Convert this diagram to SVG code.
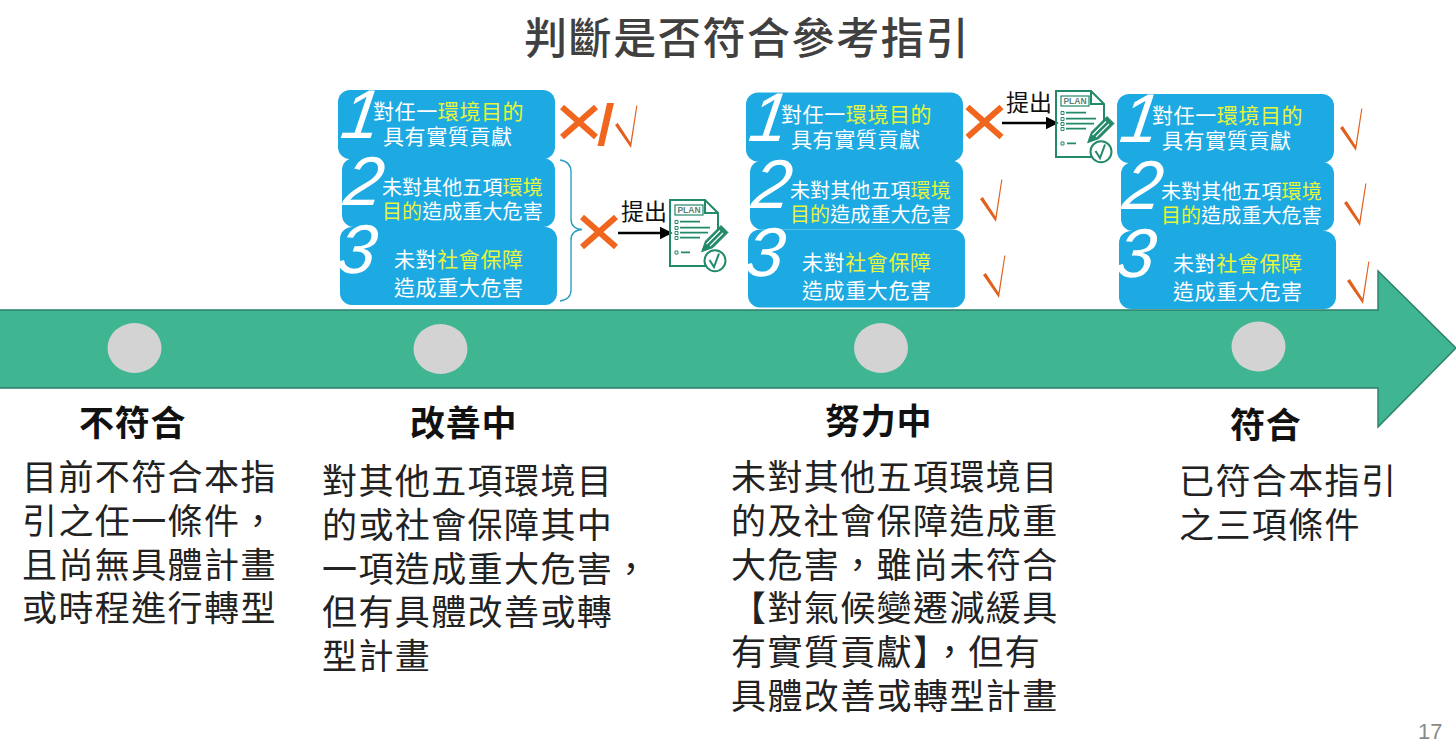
<svg xmlns="http://www.w3.org/2000/svg" width="1456" height="753" viewBox="0 0 1456 753">
<style>
text{font-family:"Noto Sans CJK TC","Noto Sans CJK SC","Liberation Sans",sans-serif}
.box{fill:#1DA9E2}
.num{font-family:"Liberation Sans",Arial,sans-serif;font-style:italic;fill:#fff;font-size:69px;font-weight:400}
.t1{fill:#fff;font-size:21px;letter-spacing:.6px}
.t2{fill:#fff;font-size:20px;letter-spacing:.1px}
.y{fill:#E8F53A}
.head{fill:#111;font-size:35px;font-weight:700;letter-spacing:.7px}
.body{fill:#222;font-size:35px;letter-spacing:1.400px}
.dot{fill:#D3D3D3}
.x{stroke:#F0661E;stroke-width:6;fill:none}
.tick{fill:#E2601E}
.sub{fill:#111;font-size:23px}
.link{stroke:#000;stroke-width:2.6;fill:none;marker-end:url(#ah)}
.ic{stroke:#22896A;fill:none;stroke-width:2}
.icf{fill:#22896A}
</style>
<defs>
<marker id="ah" markerWidth="5" markerHeight="5" refX="4" refY="2.5" orient="auto"><path d="M0,0L5,2.5L0,5Z" fill="#000"/></marker>
<path id="tk" d="M0,0L2.8,-2L15.500,17.500L21.300,-19.500L22.400,-19.500L16,23Z"/>
<path id="xm" d="M-17,-15L17,15M17,-15L-17,15"/>
<g id="plan">
<path class="ic" d="M36,66H0V0H35L48,13V30M35,0V13H48"/>
<rect class="ic" x="5" y="5" width="28" height="10" style="stroke-width:1.2"/>
<text x="19" y="13" text-anchor="middle" style="font-family:'Liberation Sans',sans-serif;font-size:8.5px;font-weight:700;fill:#5f7f78">PLAN</text>
<path class="ic" d="M10,21.700H30M10,27.700H40M10,32.700H38M10,37.700H30M11,52.300H20" style="stroke-width:1.8"/>
<path class="ic" d="M5,20.500h3v3h-3zM5,26.500h3v3h-3zM5,31.500h3v3h-3zM5,36.500h3v3h-3zM5,51h3v3h-3z" style="stroke-width:1"/>
<path d="M31.700,51.700L35.500,41L51,25.500L58,32.500L43,47.500Z" fill="#22896A" stroke="#22896A" stroke-width="1"/>
<path d="M36.500,44L50,30.500M40,46L53,33" stroke="#fff" stroke-width="1.200" fill="none"/>
<circle cx="45" cy="60.700" r="10.500" fill="#fff" stroke="#22896A" stroke-width="2"/>
<path class="ic" d="M39.500,60L44,67L49,53.500"/>
</g>
</defs>
<rect width="1456" height="753" fill="#fff"/>
<g id="title"><text x="747" y="54" text-anchor="middle" font-size="43" fill="#404040" font-weight="500" letter-spacing="1.6">判斷是否符合參考指引</text></g>
<g id="timeline">
<path d="M-2,310H1378V271L1456,348L1378,427V388H-2Z" fill="#3FB592" stroke="#2A7F6B" stroke-width="1.4"/>
</g>
<g id="dot-1"><ellipse class="dot" cx="134.500" cy="348" rx="27" ry="25"/></g>
<g id="dot-2"><ellipse class="dot" cx="440.500" cy="349" rx="27" ry="25"/></g>
<g id="dot-3"><ellipse class="dot" cx="881" cy="348" rx="27" ry="25"/></g>
<g id="dot-4"><ellipse class="dot" cx="1258.500" cy="346.500" rx="27" ry="25"/></g>

<g id="panel-1">
<rect class="box" x="338" y="90" width="217" height="69" rx="12"/>
<rect class="box" x="342" y="158" width="213" height="69" rx="12"/>
<rect class="box" x="340" y="227" width="217" height="78" rx="12"/>
<text class="num" transform="translate(339 138) skewX(-8)">1</text><text class="num" transform="translate(342 205) skewX(-8)">2</text><text class="num" transform="translate(335 273) skewX(-8)">3</text>
<text class="t1" x="373" y="119">對任一<tspan class="y">環境目的</tspan></text>
<text class="t1" x="383" y="144">具有實質貢獻</text>
<text class="t2" x="382" y="195">未對其他五項<tspan class="y">環境</tspan></text>
<text class="t2" x="382" y="219"><tspan class="y">目的</tspan>造成重大危害</text>
<text class="t1" x="394" y="267">未對<tspan class="y">社會保障</tspan></text>
<text class="t1" x="394" y="295">造成重大危害</text>
</g>
<g id="panel-2" transform="translate(408 2.500)">
<rect class="box" x="338" y="90" width="217" height="69" rx="12"/>
<rect class="box" x="342" y="158" width="213" height="69" rx="12"/>
<rect class="box" x="340" y="227" width="217" height="78" rx="12"/>
<text class="num" transform="translate(339 138) skewX(-8)">1</text><text class="num" transform="translate(342 205) skewX(-8)">2</text><text class="num" transform="translate(335 273) skewX(-8)">3</text>
<text class="t1" x="373" y="119">對任一<tspan class="y">環境目的</tspan></text>
<text class="t1" x="383" y="144">具有實質貢獻</text>
<text class="t2" x="382" y="195">未對其他五項<tspan class="y">環境</tspan></text>
<text class="t2" x="382" y="219"><tspan class="y">目的</tspan>造成重大危害</text>
<text class="t1" x="394" y="267">未對<tspan class="y">社會保障</tspan></text>
<text class="t1" x="394" y="295">造成重大危害</text>
</g>
<g id="panel-3" transform="translate(779 4)">
<rect class="box" x="338" y="90" width="217" height="69" rx="12"/>
<rect class="box" x="342" y="158" width="213" height="69" rx="12"/>
<rect class="box" x="340" y="227" width="217" height="78" rx="12"/>
<text class="num" transform="translate(339 138) skewX(-8)">1</text><text class="num" transform="translate(342 205) skewX(-8)">2</text><text class="num" transform="translate(335 273) skewX(-8)">3</text>
<text class="t1" x="373" y="119">對任一<tspan class="y">環境目的</tspan></text>
<text class="t1" x="383" y="144">具有實質貢獻</text>
<text class="t2" x="382" y="195">未對其他五項<tspan class="y">環境</tspan></text>
<text class="t2" x="382" y="219"><tspan class="y">目的</tspan>造成重大危害</text>
<text class="t1" x="394" y="267">未對<tspan class="y">社會保障</tspan></text>
<text class="t1" x="394" y="295">造成重大危害</text>
</g>

<g id="marks">
<use href="#xm" class="x" x="579" y="122"/>
<path d="M607,103H614L604,146H597.500Z" fill="#F0661E"/>
<use href="#tk" class="tick" x="615" y="125"/>
<use href="#xm" class="x" x="599" y="232"/>
<use href="#xm" class="x" x="984.500" y="122"/>
<use href="#tk" class="tick" x="980" y="199"/>
<use href="#tk" class="tick" x="983" y="275"/>
<use href="#tk" class="tick" x="1340" y="128"/>
<use href="#tk" class="tick" x="1344" y="203"/>
<use href="#tk" class="tick" x="1347" y="281"/>
</g>

<g id="connectors">
<path d="M560,160C567,161 571,164 571,172V219C571,226 575,229 582,229.500C575,230 571,233 571,240V290C571,297 567,300 560,301" fill="none" stroke="#2E9FBF" stroke-width="1.4"/>
<path class="link" d="M618,233H670"/>
<path class="link" d="M1002,123H1056"/>
</g>

<g id="plan-1"><text class="sub" x="621" y="220">提出</text><use href="#plan" x="670" y="200"/></g>
<g id="plan-2"><text class="sub" x="1006" y="111">提出</text><use href="#plan" x="1056" y="91"/></g>

<g id="stage-1">
<text class="head" x="79" y="436">不符合</text>
<text class="body" x="22" y="490">目前不符合本指</text>
<text class="body" x="22" y="534">引之任一條件，</text>
<text class="body" x="22" y="578">且尚無具體計畫</text>
<text class="body" x="22" y="621">或時程進行轉型</text>
</g>
<g id="stage-2">
<text class="head" x="410" y="436">改善中</text>
<text class="body" x="322" y="494">對其他五項環境目</text>
<text class="body" x="322" y="538">的或社會保障其中</text>
<text class="body" x="322" y="582">一項造成重大危害，</text>
<text class="body" x="322" y="625">但有具體改善或轉</text>
<text class="body" x="322" y="669">型計畫</text>
</g>
<g id="stage-3">
<text class="head" x="825" y="434">努力中</text>
<text class="body" x="731" y="490">未對其他五項環境目</text>
<text class="body" x="731" y="534">的及社會保障造成重</text>
<text class="body" x="731" y="578">大危害，雖尚未符合</text>
<text class="body" x="731" y="621">【對氣候變遷減緩具</text>
<text class="body" x="731" y="665">有實質貢獻】，但有</text>
<text class="body" x="731" y="709">具體改善或轉型計畫</text>
</g>
<g id="stage-4">
<text class="head" x="1230" y="438">符合</text>
<text class="body" x="1179" y="494">已符合本指引</text>
<text class="body" x="1179" y="538">之三項條件</text>
</g>
<g id="page"><text x="1418" y="739" font-size="22" fill="#8A8A8A" style="font-family:'Liberation Sans',sans-serif">17</text></g>
</svg>
